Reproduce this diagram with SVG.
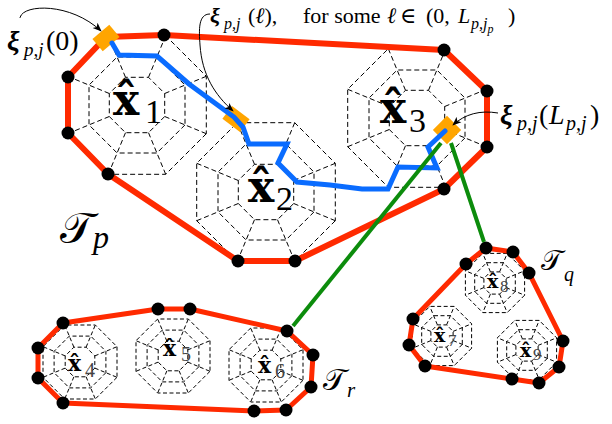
<svg xmlns="http://www.w3.org/2000/svg" width="612" height="424" viewBox="0 0 612 424">
<style>
.web{fill:none;stroke:#000;stroke-width:1;stroke-dasharray:5 3}
.webs{fill:none;stroke:#000;stroke-width:1;stroke-dasharray:4 2.5}
.bd{fill:none;stroke:#ff2a00;stroke-width:6;stroke-linejoin:round}
.bd2{fill:none;stroke:#ff2a00;stroke-width:5;stroke-linejoin:round}
.dot{fill:#000}
.or{fill:#ffa500}
.blue{fill:none;stroke:#0a6cff;stroke-width:5;stroke-linejoin:miter;stroke-linecap:round}
.green{stroke:#0c8c0c;stroke-width:4}
.ann{fill:none;stroke:#000;stroke-width:1}
.xh{font-family:"DejaVu Serif",serif;font-weight:bold;fill:#000}
.num{font-family:"Liberation Serif",serif}
.m{font-family:"Liberation Serif","DejaVu Serif",serif;fill:#000}
.cal{font-family:"DejaVu Sans","Noto Sans",serif}
</style>
<defs>
<g id="webL">
<polygon class="web" points="69.3,28.7 28.7,69.3 -28.7,69.3 -69.3,28.7 -69.3,-28.7 -28.7,-69.3 28.7,-69.3 69.3,-28.7"/>
<polygon class="web" points="48,19.9 19.9,48 -19.9,48 -48,19.9 -48,-19.9 -19.9,-48 19.9,-48 48,-19.9"/>
<polygon class="web" points="27.7,11.5 11.5,27.7 -11.5,27.7 -27.7,11.5 -27.7,-11.5 -11.5,-27.7 11.5,-27.7 27.7,-11.5"/>
<path class="web" d="M27.7,11.5L69.3,28.7M11.5,27.7L28.7,69.3M-11.5,27.7L-28.7,69.3M-27.7,11.5L-69.3,28.7M-27.7,-11.5L-69.3,-28.7M-11.5,-27.7L-28.7,-69.3M11.5,-27.7L28.7,-69.3M27.7,-11.5L69.3,-28.7"/>
</g>
<g id="webR">
<polygon class="webs" points="37,15.3 15.3,37 -15.3,37 -37,15.3 -37,-15.3 -15.3,-37 15.3,-37 37,-15.3"/>
<polygon class="webs" points="25.9,10.7 10.7,25.9 -10.7,25.9 -25.9,10.7 -25.9,-10.7 -10.7,-25.9 10.7,-25.9 25.9,-10.7"/>
<polygon class="webs" points="14.8,6.1 6.1,14.8 -6.1,14.8 -14.8,6.1 -14.8,-6.1 -6.1,-14.8 6.1,-14.8 14.8,-6.1"/>
<path class="webs" d="M14.8,6.1L37,15.3M6.1,14.8L15.3,37M-6.1,14.8L-15.3,37M-14.8,6.1L-37,15.3M-14.8,-6.1L-37,-15.3M-6.1,-14.8L-15.3,-37M6.1,-14.8L15.3,-37M14.8,-6.1L37,-15.3"/>
</g>
<g id="webQ">
<polygon class="webs" points="29.6,12.2 12.2,29.6 -12.2,29.6 -29.6,12.2 -29.6,-12.2 -12.2,-29.6 12.2,-29.6 29.6,-12.2"/>
<polygon class="webs" points="20.3,8.4 8.4,20.3 -8.4,20.3 -20.3,8.4 -20.3,-8.4 -8.4,-20.3 8.4,-20.3 20.3,-8.4"/>
<polygon class="webs" points="11.1,4.6 4.6,11.1 -4.6,11.1 -11.1,4.6 -11.1,-4.6 -4.6,-11.1 4.6,-11.1 11.1,-4.6"/>
<path class="webs" d="M11.1,4.6L29.6,12.2M4.6,11.1L12.2,29.6M-4.6,11.1L-12.2,29.6M-11.1,4.6L-29.6,12.2M-11.1,-4.6L-29.6,-12.2M-4.6,-11.1L-12.2,-29.6M4.6,-11.1L12.2,-29.6M11.1,-4.6L29.6,-12.2"/>
</g>
<marker id="ah" viewBox="0 0 10 10" refX="9" refY="5" markerWidth="9" markerHeight="9" markerUnits="userSpaceOnUse" orient="auto">
<path d="M0,1L10,5L0,9L2.5,5Z" fill="#000"/>
</marker>
</defs>

<g id="Tp">
<use href="#webL" x="137" y="105"/>
<use href="#webL" x="266" y="192"/>
<use href="#webL" x="417" y="118"/>
<polygon class="bd" points="106,37 164,35 444,50 487,91 487,147 444,189 295,261 238,261 108,174 68,133 68,77"/>
<g class="dot">
<circle cx="164" cy="35" r="6.5"/><circle cx="444" cy="50" r="6.5"/><circle cx="487" cy="91" r="6.5"/><circle cx="487" cy="147" r="6.5"/><circle cx="444" cy="189" r="6.5"/><circle cx="295" cy="261" r="6.5"/><circle cx="238" cy="261" r="6.5"/><circle cx="108" cy="174" r="6.5"/><circle cx="68" cy="133" r="6.5"/><circle cx="68" cy="77" r="6.5"/>
</g>
<rect class="or" x="-11" y="-8" width="22" height="16" transform="translate(106,38) rotate(-40)"/>
<rect class="or" x="-11" y="-8" width="22" height="16" transform="translate(236,119) rotate(37)"/>
<rect class="or" x="-10" y="-10" width="20" height="20" transform="translate(447,130) rotate(45)"/>
<polyline class="blue" points="112,43 119,55 157,56 189,84 234,117 243,127 249,144 287,144 278,163 297,182 330,185 362,189 388,189 398,167 437,168 428,147 445,131"/>
<text class="xh" x="113" y="115" font-size="44">x&#x302;<tspan class="num" font-weight="normal" x="145" y="123" font-size="34">1</tspan></text>
<text class="xh" x="248" y="202" font-size="44">x&#x302;<tspan class="num" font-weight="normal" x="276" y="210" font-size="34">2</tspan></text>
<text class="xh" x="380" y="123" font-size="44">x&#x302;<tspan class="num" font-weight="normal" x="409" y="132" font-size="34">3</tspan></text>
<text class="cal" x="60" y="243" font-size="44">&#x1D4AF;</text>
<text class="m" x="93" y="248" font-size="32" font-style="italic">p</text>
</g>

<g id="Tr">
<use href="#webR" x="80" y="362"/>
<use href="#webR" x="173" y="356"/>
<use href="#webR" x="266" y="365"/>
<polygon class="bd2" points="63,323 158,309 190,309 287,331 313,355 311,387 286,410 254,411 63,403 38,378 38,348"/>
<g class="dot">
<circle cx="63" cy="323" r="6.5"/><circle cx="158" cy="309" r="6.5"/><circle cx="190" cy="309" r="6.5"/><circle cx="287" cy="331" r="6.5"/><circle cx="313" cy="355" r="6.5"/><circle cx="311" cy="387" r="6.5"/><circle cx="286" cy="410" r="6.5"/><circle cx="254" cy="411" r="6.5"/><circle cx="63" cy="403" r="6.5"/><circle cx="38" cy="378" r="6.5"/><circle cx="38" cy="348" r="6.5"/>
</g>
<text class="xh" x="68" y="371" font-size="22">x&#x302;<tspan class="num" font-weight="normal" fill="#444" x="85" y="377" font-size="20">4</tspan></text>
<text class="xh" x="163" y="356" font-size="22">x&#x302;<tspan class="num" font-weight="normal" fill="#444" x="181" y="361" font-size="20">5</tspan></text>
<text class="xh" x="258" y="373" font-size="22">x&#x302;<tspan class="num" font-weight="normal" fill="#444" x="275" y="378" font-size="20">6</tspan></text>
<text class="cal" x="323" y="390" font-size="30">&#x1D4AF;</text>
<text class="m" x="347" y="397" font-size="21" font-style="italic">r</text>
</g>

<g id="Tq">
<use href="#webQ" x="442" y="336"/>
<use href="#webQ" x="495" y="283"/>
<use href="#webQ" x="527" y="350"/>
<polygon class="bd2" points="486,248 513,252 529,273 563,341 559,367 539,383 512,379 425,366 409,345 413,319 466,264"/>
<g class="dot">
<circle cx="486" cy="248" r="6.5"/><circle cx="513" cy="252" r="6.5"/><circle cx="529" cy="273" r="6.5"/><circle cx="563" cy="341" r="6.5"/><circle cx="559" cy="367" r="6.5"/><circle cx="539" cy="383" r="6.5"/><circle cx="512" cy="379" r="6.5"/><circle cx="425" cy="366" r="6.5"/><circle cx="409" cy="345" r="6.5"/><circle cx="413" cy="319" r="6.5"/><circle cx="466" cy="264" r="6.5"/>
</g>
<text class="xh" x="434" y="342" font-size="19">x&#x302;<tspan class="num" font-weight="normal" fill="#444" x="448" y="346" font-size="17">7</tspan></text>
<text class="xh" x="487" y="288" font-size="19">x&#x302;<tspan class="num" font-weight="normal" fill="#444" x="500" y="292" font-size="17">8</tspan></text>
<text class="xh" x="520" y="357" font-size="19">x&#x302;<tspan class="num" font-weight="normal" fill="#444" x="533" y="360" font-size="17">9</tspan></text>
<text class="cal" x="541" y="270" font-size="28">&#x1D4AF;</text>
<text class="m" x="564" y="281" font-size="20" font-style="italic">q</text>
</g>

<g id="connectors">
<line class="green" x1="441" y1="143" x2="293" y2="326"/>
<line class="green" x1="451" y1="143" x2="484" y2="242"/>
</g>

<g id="annotations">
<path class="ann" d="M20,18C22,4 70,2 101,31" marker-end="url(#ah)"/>
<path class="ann" d="M210,14C198,14 199,30 200,45C202,75 215,95 233,111" marker-end="url(#ah)"/>
<path class="ann" d="M498,113C480,110 465,114 453,125" marker-end="url(#ah)"/>
<text class="m" y="50" font-size="28"><tspan x="7" font-weight="bold" font-style="italic">ξ</tspan><tspan x="24" y="56" font-size="19" font-style="italic">p,j</tspan><tspan x="46" y="50">(0)</tspan></text>
<text class="m" y="23" font-size="22"><tspan x="210" font-weight="bold" font-style="italic">ξ</tspan><tspan x="224" y="29" font-size="16" font-style="italic">p,j</tspan><tspan x="248" y="23">(</tspan><tspan font-style="italic">ℓ</tspan><tspan>),</tspan><tspan x="303">for some</tspan><tspan x="387" font-style="italic">ℓ</tspan><tspan x="400">∈</tspan><tspan x="426">(0,</tspan><tspan x="458" font-style="italic">L</tspan><tspan x="471" y="29" font-size="16" font-style="italic">p,j</tspan><tspan y="33" font-size="12" font-style="italic">p</tspan><tspan x="508" y="23">)</tspan></text>
<text class="m" y="124" font-size="28"><tspan x="500" font-weight="bold" font-style="italic">ξ</tspan><tspan x="517" y="130" font-size="20" font-style="italic">p,j</tspan><tspan x="539" y="124">(</tspan><tspan x="549" font-style="italic">L</tspan><tspan x="566" y="130" font-size="20" font-style="italic">p,j</tspan><tspan x="590" y="124">)</tspan></text>
</g>
</svg>
